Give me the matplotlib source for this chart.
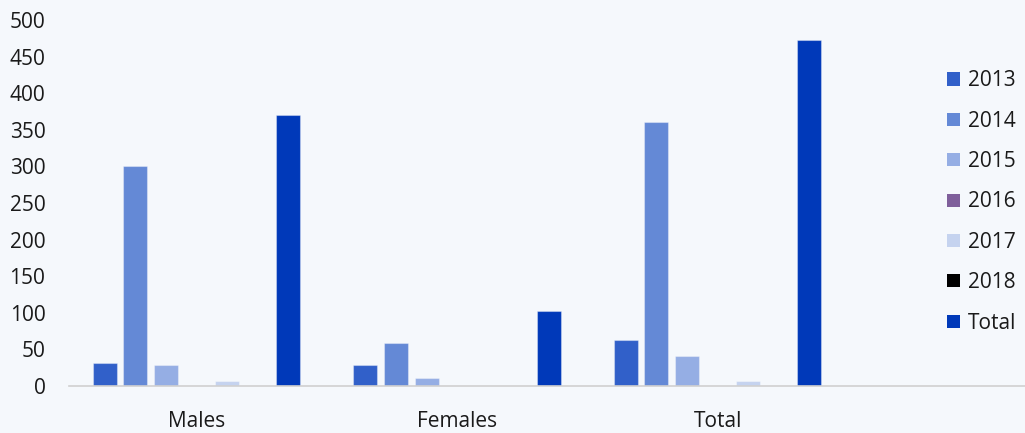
import matplotlib
matplotlib.use("Agg")
import matplotlib.pyplot as plt
import numpy as np
from matplotlib.patches import Patch

categories = ["Males", "Females", "Total"]
series_names = ["2013", "2014", "2015", "2016", "2017", "2018", "Total"]
v2013 = [31, 29, 63]
v2014 = [300, 59, 360]
v2015 = [29, 11, 41]
v2016 = [0, 0, 0]
v2017 = [7, 0, 7]
v2018 = [0, 0, 0]
vtotal = [370, 102, 473]
values = [v2013, v2014, v2015, v2016, v2017, v2018, vtotal]
colors = ["#3160C9", "#6489D6", "#95AEE4", "#7F5F9B", "#C5D3EF", "#000000", "#0039B9"]
yticks = [0, 50, 100, 150, 200, 250, 300, 350, 400, 450, 500]

bg = "#F5F8FC"
plt.rcParams["font.family"] = ["Open Sans", "DejaVu Sans"]

fig = plt.figure(figsize=(10.25, 4.33), dpi=100, facecolor=bg)
ax = fig.add_axes([69/1025, (433-386)/433, (1025-69)/1025, (386-20)/433])
ax.set_facecolor(bg)

x = np.arange(len(categories))
step = 0.1175
width = 0.092
for i, (name, vals, c) in enumerate(zip(series_names, values, colors)):
    off = (i - 3) * step
    ax.bar(x + off, vals, width, color=c, edgecolor=(1, 1, 1, 0.35), linewidth=0.8, label=name)

ax.set_ylim(0, 500)
ax.set_xlim(-0.49, 3.18)
ax.set_yticks(yticks)
ax.set_yticklabels([str(t) for t in yticks], fontsize=15, color="#1a1a1a")
ax.set_xticks(x)
ax.set_xticklabels(categories, fontsize=15, color="#1a1a1a")
ax.tick_params(axis="both", length=0)
ax.tick_params(axis="y", pad=17)
ax.tick_params(axis="x", pad=18)
for s in ["top", "right", "left"]:
    ax.spines[s].set_visible(False)
ax.spines["bottom"].set_color("#d0d0d0")
ax.spines["bottom"].set_linewidth(1.2)

handles = [Patch(facecolor=c, edgecolor="none", label=n) for n, c in zip(series_names, colors)]
leg = fig.legend(handles=handles, loc="upper left", bbox_to_anchor=(939/1025, 1 - 62/433),
                 frameon=False, fontsize=15, handlelength=0.6, handleheight=0.6,
                 handletextpad=0.4, labelspacing=0.93, borderaxespad=0)
for t in leg.get_texts():
    t.set_color("#1a1a1a")

fig.savefig("out.png", dpi=100, facecolor=bg)
